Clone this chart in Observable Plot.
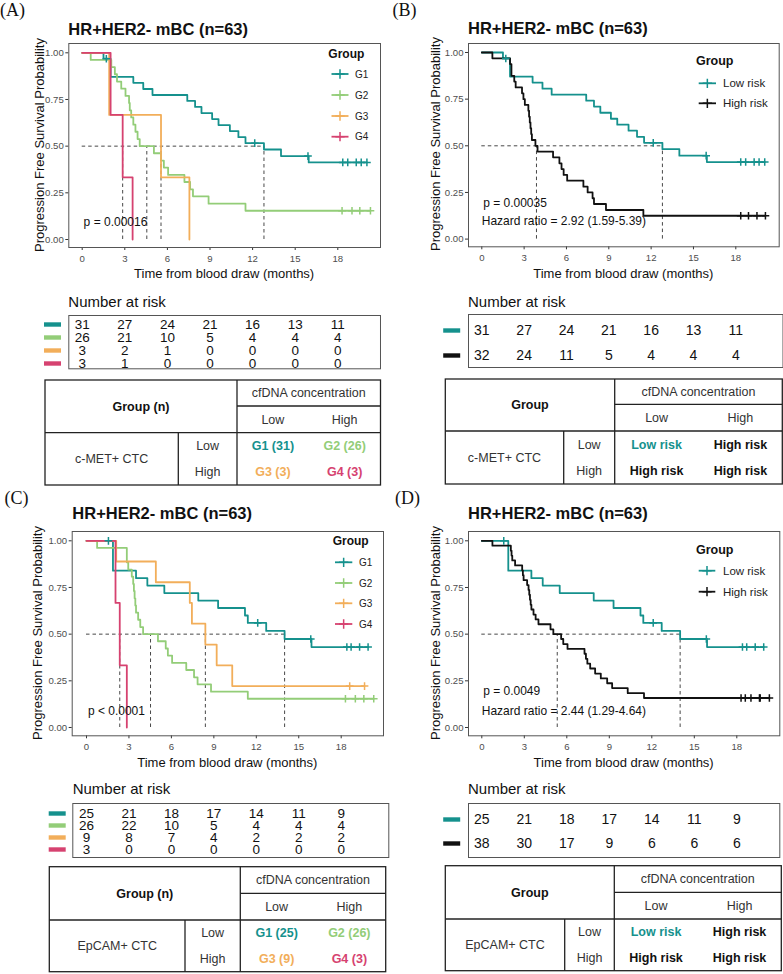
<!DOCTYPE html>
<html><head><meta charset="utf-8">
<script src="https://cdn.jsdelivr.net/npm/d3@7"></script>
<script src="https://cdn.jsdelivr.net/npm/@observablehq/plot@0.6"></script>
<style>
html,body{margin:0;padding:0;background:#fff;}
#root{position:relative;width:783px;height:974px;overflow:hidden;font-family:"Liberation Sans",Arial,Helvetica,sans-serif;color:#111;}
.t{position:absolute;white-space:nowrap;line-height:1;}
</style></head><body><div id="root"></div>
<script>
// ---------------- DATA ----------------
const timeTicks = [0, 3, 6, 9, 12, 15, 18];
const probTicks = [0, 0.25, 0.5, 0.75, 1];
const panelLabels = ["(A)", "(B)", "(C)", "(D)"];
const titleText = "HR+HER2- mBC (n=63)";
const xTitle = "Time from blood draw (months)";
const yTitle = "Progression Free Survival Probability";
const riskTitle = "Number at risk";
const legendTitle = "Group";

const fourGroups = ["G1", "G2", "G3", "G4"];
const fourColors = ["#15918d", "#93cd78", "#f2ae5a", "#d64270"];
const riskGroups = ["Low risk", "High risk"];
const riskColors = ["#15918d", "#111111"];

// Panel A: c-MET+ CTC x cfDNA
const aG1Time = [0, 1.5, 2.0, 3.6, 4.3, 4.95, 7.4, 7.95, 8.4, 9.15, 9.6, 10.4, 11.0, 11.5, 12.8, 14.0, 15.95];
const aG1Surv = [1, 0.968, 0.871, 0.839, 0.806, 0.774, 0.742, 0.710, 0.677, 0.645, 0.613, 0.581, 0.548, 0.516, 0.482, 0.447, 0.413];
const aG1Cens = [1.7, 12.15, 15.9, 18.35, 18.7, 19.3, 19.65, 20.05];
const aG2Time = [0, 0.6, 2.05, 2.3, 2.45, 2.75, 3.05, 3.3, 3.35, 3.45, 3.6, 3.75, 3.9, 4.05, 5.05, 5.55, 5.75, 6.05, 7.2, 7.6, 7.8, 8.9, 11.5];
const aG2Surv = [1, 0.962, 0.923, 0.885, 0.846, 0.808, 0.769, 0.731, 0.692, 0.654, 0.615, 0.577, 0.538, 0.5, 0.462, 0.423, 0.385, 0.346, 0.308, 0.269, 0.231, 0.192, 0.154];
const aG2Cens = [18.3, 19.0, 19.55, 20.3];
const aG3Time = [0, 1.9, 5.55, 7.55];
const aG3Surv = [1, 0.667, 0.333, 0];
const aG3Cens = [];
const aG4Time = [0, 2.0, 2.85, 3.55];
const aG4Surv = [1, 0.667, 0.333, 0];
const aG4Cens = [];
const aMedians = [12.8, 4.55, 5.55, 2.85];
const aRiskG1 = [31, 27, 24, 21, 16, 13, 11];
const aRiskG2 = [26, 21, 10, 5, 4, 4, 4];
const aRiskG3 = [3, 2, 1, 0, 0, 0, 0];
const aRiskG4 = [3, 1, 0, 0, 0, 0, 0];
const aAnnot = [{x: 0.1, y: 0.093, text: "p = 0.00016"}];

// Panel B: c-MET+ CTC risk (Low risk = G1 of panel A)
const bHighTime = [0, 0.75, 2.0, 2.1, 2.3, 2.4, 2.85, 2.95, 3.05, 3.3, 3.35, 3.4, 3.45, 3.5, 3.55, 3.8, 3.95, 5.05, 5.5, 5.65, 5.8, 6.05, 7.2, 7.5, 7.85, 7.95, 8.8, 11.45];
const bHighSurv = [1, 0.969, 0.938, 0.875, 0.844, 0.813, 0.781, 0.75, 0.719, 0.688, 0.656, 0.625, 0.594, 0.563, 0.531, 0.5, 0.469, 0.438, 0.406, 0.375, 0.344, 0.313, 0.281, 0.25, 0.219, 0.188, 0.156, 0.125];
const bHighCens = [18.35, 18.9, 19.5, 20.1];
const bMedians = [12.8, 3.875];
const bRiskLow = [31, 27, 24, 21, 16, 13, 11];
const bRiskHigh = [32, 24, 11, 5, 4, 4, 4];
const bAnnot = [{x: 0.1, y: 0.193, text: "p = 0.00035"}, {x: 0, y: 0.094, text: "Hazard ratio = 2.92 (1.59-5.39)"}];

// Panel C: EpCAM+ CTC x cfDNA
const cG1Time = [0, 1.87, 3.5, 4.3, 5.5, 7.9, 9.3, 11.2, 11.4, 12.7, 14.0, 15.9];
const cG1Surv = [1, 0.84, 0.80, 0.76, 0.72, 0.68, 0.64, 0.60, 0.56, 0.517, 0.474, 0.431];
const cG1Cens = [1.55, 12.1, 15.85, 18.4, 18.7, 19.3, 19.9];
const cG2Time = [0, 0.75, 2.85, 2.95, 3.2, 3.3, 3.35, 3.4, 3.45, 3.5, 3.65, 3.8, 4.0, 5.05, 5.6, 5.75, 6.05, 7.05, 7.6, 7.85, 8.8, 11.4];
const cG2Surv = [1, 0.962, 0.885, 0.846, 0.808, 0.769, 0.731, 0.692, 0.654, 0.615, 0.577, 0.538, 0.5, 0.462, 0.423, 0.385, 0.346, 0.308, 0.269, 0.231, 0.192, 0.154];
const cG2Cens = [18.3, 19.0, 19.6, 20.3];
const cG3Time = [0, 2.1, 4.9, 7.3, 7.45, 8.4, 9.2, 10.3];
const cG3Surv = [1, 0.889, 0.778, 0.667, 0.556, 0.444, 0.333, 0.222];
const cG3Cens = [18.6, 19.65];
const cG4Time = [0, 2.05, 2.35, 2.85];
const cG4Surv = [1, 0.667, 0.333, 0];
const cG4Cens = [];
const cMedians = [14.0, 4.525, 8.4, 2.35];
const cRiskG1 = [25, 21, 18, 17, 14, 11, 9];
const cRiskG2 = [26, 22, 10, 5, 4, 4, 4];
const cRiskG3 = [9, 8, 7, 4, 2, 2, 2];
const cRiskG4 = [3, 0, 0, 0, 0, 0, 0];
const cAnnot = [{x: 0.1, y: 0.089, text: "p < 0.0001"}];

// Panel D: EpCAM+ CTC risk (Low risk = G1 of panel C)
const dHighTime = [0, 0.75, 2.05, 2.1, 2.15, 2.35, 2.85, 2.9, 2.95, 3.2, 3.3, 3.35, 3.4, 3.45, 3.5, 3.65, 3.8, 4.0, 4.85, 5.05, 5.6, 5.75, 6.05, 7.25, 7.35, 7.45, 7.65, 8.0, 8.4, 8.85, 9.2, 10.3, 11.45];
const dHighSurv = [1, 0.974, 0.947, 0.921, 0.895, 0.868, 0.842, 0.816, 0.789, 0.763, 0.737, 0.711, 0.684, 0.658, 0.632, 0.605, 0.579, 0.553, 0.526, 0.5, 0.474, 0.447, 0.421, 0.395, 0.368, 0.342, 0.316, 0.289, 0.263, 0.237, 0.211, 0.184, 0.158];
const dHighCens = [18.3, 18.6, 19.0, 19.6, 19.65, 20.3];
const dMedians = [14.0, 5.325];
const dRiskLow = [25, 21, 18, 17, 14, 11, 9];
const dRiskHigh = [38, 30, 17, 9, 6, 6, 6];
const dAnnot = [{x: 0.1, y: 0.193, text: "p = 0.0049"}, {x: 0, y: 0.089, text: "Hazard ratio = 2.44 (1.29-4.64)"}];

// Group definition tables
const tableHeadN = "Group (n)";
const tableHead = "Group";
const cfdnaHead = "cfDNA concentration";
const levelNames = ["Low", "High"];
const markerCMET = "c-MET+ CTC";
const markerEpCAM = "EpCAM+ CTC";
const cellsA = ["G1 (31)", "G2 (26)", "G3 (3)", "G4 (3)"];
const cellsC = ["G1 (25)", "G2 (26)", "G3 (9)", "G4 (3)"];
const cellsRisk = ["Low risk", "High risk", "High risk", "High risk"];
const cellsRiskColors = ["#15918d", "#111111", "#111111", "#111111"];

// ---------------- HELPERS ----------------
const FONT = '"Liberation Sans", Arial, Helvetica, sans-serif';
const root = document.getElementById("root");

function text(str, x, y, o = {}) {
  const d = document.createElement("div");
  d.className = "t";
  d.textContent = str;
  d.style.left = x + "px";
  d.style.top = y + "px";
  d.style.fontSize = (o.size || 12) + "px";
  if (o.bold) d.style.fontWeight = "bold";
  d.style.color = o.color || "#111";
  if (o.family) d.style.fontFamily = o.family;
  let tf = o.anchor === "middle" ? "translate(-50%,-50%)" : "translate(0,-50%)";
  if (o.rotate) tf = "translate(-50%,-50%) rotate(-90deg)";
  d.style.transform = tf;
  root.appendChild(d);
}
function place(svg, left, top) {
  svg.style.position = "absolute";
  svg.style.left = left + "px";
  svg.style.top = top + "px";
  root.appendChild(svg);
}
function stepAt(times, surv, t) {
  let s = surv[0];
  for (let i = 0; i < times.length; i++) if (times[i] <= t) s = surv[i];
  return s;
}
function curveRows(g, times, surv, cens) {
  const rows = times.map((t, i) => ({g, t, s: surv[i]}));
  if (cens.length) rows.push({g, t: cens[cens.length - 1], s: surv[surv.length - 1]});
  return rows;
}
function censorRows(g, times, surv, cens) {
  return cens.map(t => ({g, t, s: stepAt(times, surv, t)}));
}
function riskRows(groups, lists) {
  const out = [];
  groups.forEach((g, i) => lists[i].forEach((n, j) => out.push({g, t: timeTicks[j], n})));
  return out;
}
const barSymbol = {draw(ctx) { ctx.moveTo(-8.5, -2.2); ctx.lineTo(8.5, -2.2); ctx.lineTo(8.5, 2.2); ctx.lineTo(-8.5, 2.2); ctx.closePath(); }};

function kmPlot(P, D) {
  const W = 391;
  const ppm = (P.x18 - P.x0) / 18;
  const ppu = P.y0 - P.y1;
  const mt = 12, mb = 24;
  const maxMed = d3.max(D.medians);
  const svg = Plot.plot({
    width: W, height: P.B - P.T + mt + mb,
    marginLeft: P.L - P.px, marginRight: P.px + W - P.R, marginTop: mt, marginBottom: mb,
    x: {domain: [(P.L - P.x0) / ppm, (P.R - P.x0) / ppm], label: null},
    y: {domain: [-(P.B - P.y0) / ppu, 1 + (P.y1 - P.T) / ppu], label: null},
    color: {domain: D.groups, range: D.colors},
    style: {fontFamily: FONT, background: "transparent", overflow: "visible"},
    marks: [
      Plot.axisX(timeTicks, {tickSize: 3, tickPadding: 4.5, fontSize: 9.6, stroke: "#333", fill: "#4d4d4d", label: null}),
      Plot.axisY(probTicks, {tickSize: 3, tickPadding: 2, fontSize: 9.6, tickFormat: d3.format(".2f"), stroke: "#333", fill: "#4d4d4d", label: null}),
      Plot.ruleY([0.5], {x1: () => 0, x2: () => maxMed, stroke: "#333", strokeWidth: 0.9, strokeDasharray: "3.5,3"}),
      Plot.ruleX(D.medians, {x: d => d, y1: () => 0, y2: () => 0.5, stroke: "#333", strokeWidth: 0.9, strokeDasharray: "3.5,3"}),
      Plot.line(D.curves, {x: "t", y: "s", z: "g", stroke: "g", curve: "step-after", strokeWidth: 1.8}),
      Plot.dot(D.censors, {x: "t", y: "s", stroke: "g", symbol: "plus", r: 2.6, strokeWidth: 1.5}),
      Plot.text(D.annot, {x: "x", y: "y", text: "text", textAnchor: "start", fontSize: 12, fill: "#111"}),
      Plot.frame({stroke: "#555", strokeWidth: 1})
    ]
  });
  place(svg, P.px, P.T - mt);
}

function riskPlot(P, D) {
  const W = 391;
  const R = P.risk;
  const ppm = (P.x18 - P.x0) / 18;
  const top = R.T - 1;
  const svg = Plot.plot({
    width: W, height: R.B - R.T + 2,
    marginLeft: R.L - P.px, marginRight: Math.max(0.5, P.px + W - R.R), marginTop: 1, marginBottom: 1,
    x: {domain: [(R.L - P.x0) / ppm, (R.R - P.x0) / ppm], axis: null},
    y: {type: "point", domain: D.groups, range: [R.rows[0] - top, R.rows[R.rows.length - 1] - top], padding: 0, axis: null},
    color: {domain: D.groups, range: D.colors},
    style: {fontFamily: FONT, background: "transparent", overflow: "visible"},
    marks: [
      Plot.text(D.risk, {x: "t", y: "g", text: "n", fontSize: R.fs, fill: "#111"}),
      Plot.dot(D.groups, {y: d => d, fill: d => d, frameAnchor: "left", dx: R.barC - R.L, symbol: barSymbol, r: 3}),
      Plot.frame({stroke: "#555", strokeWidth: 1})
    ]
  });
  place(svg, P.px, top);
  text(riskTitle, R.head.x, R.head.y, {size: 15});
}

// overlay for legends and tables
const overlay = d3.create("svg").attr("width", 783).attr("height", 974)
  .style("position", "absolute").style("left", "0px").style("top", "0px")
  .style("font-family", FONT);

function legend(P, D) {
  const L = P.legend;
  const g = overlay.append("g");
  g.append("text").attr("x", L.titleX).attr("y", L.titleY).attr("dy", "0.35em")
    .attr("font-weight", "bold").attr("font-size", L.tfs).attr("fill", "#111").text(legendTitle);
  D.groups.forEach((name, i) => {
    const y = L.rows[i];
    g.append("line").attr("x1", L.k1).attr("x2", L.k2).attr("y1", y).attr("y2", y)
      .attr("stroke", D.colors[i]).attr("stroke-width", 1.8);
    g.append("path").attr("d", d3.symbol(d3.symbolPlus, 30)())
      .attr("transform", `translate(${(L.k1 + L.k2) / 2},${y})`)
      .attr("stroke", D.colors[i]).attr("stroke-width", 1.5).attr("fill", "none");
    g.append("text").attr("x", L.tx).attr("y", y).attr("dy", "0.35em")
      .attr("font-size", L.fs).attr("fill", "#222").text(name);
  });
}

function groupTable(P, T) {
  const [x0, x1, x2, x3] = P.table.xs;
  const [y0, y1, y2, y3] = P.table.ys;
  const g = overlay.append("g");
  const ln = (a, b, c, d) => g.append("line").attr("x1", a).attr("y1", b).attr("x2", c).attr("y2", d)
    .attr("stroke", "#222").attr("stroke-width", 1.3);
  g.append("rect").attr("x", x0).attr("y", y0).attr("width", x3 - x0).attr("height", y3 - y0)
    .attr("fill", "none").attr("stroke", "#222").attr("stroke-width", 1.3);
  ln(x2, y0, x2, y3); ln(x2, y1, x3, y1); ln(x0, y2, x3, y2); ln(x1, y2, x1, y3);
  const xm = (x2 + x3) / 2;
  const lowX = (x2 + xm) / 2, highX = (xm + x3) / 2;
  const rLow = y2 + (y3 - y2) / 4, rHigh = y2 + 3 * (y3 - y2) / 4;
  const tx = (s, x, y, o = {}) => g.append("text").attr("x", x).attr("y", y).attr("dy", "0.35em")
    .attr("text-anchor", "middle").attr("font-size", 12.5)
    .attr("font-weight", o.bold ? "bold" : null).attr("fill", o.color || "#333").text(s);
  tx(T.head, (x0 + x2) / 2, (y0 + y2) / 2, {bold: true, color: "#111"});
  tx(cfdnaHead, xm, (y0 + y1) / 2);
  tx(levelNames[0], lowX, (y1 + y2) / 2);
  tx(levelNames[1], highX, (y1 + y2) / 2);
  tx(T.marker, (x0 + x1) / 2, (y2 + y3) / 2);
  tx(levelNames[0], (x1 + x2) / 2, rLow);
  tx(levelNames[1], (x1 + x2) / 2, rHigh);
  tx(T.cells[0], lowX, rLow, {bold: true, color: T.colors[0]});
  tx(T.cells[1], highX, rLow, {bold: true, color: T.colors[1]});
  tx(T.cells[2], lowX, rHigh, {bold: true, color: T.colors[2]});
  tx(T.cells[3], highX, rHigh, {bold: true, color: T.colors[3]});
}

function panel(P, D, T, idx) {
  text(panelLabels[idx], P.label.x, P.label.y, {size: 18, family: '"Liberation Serif", "Times New Roman", serif'});
  text(titleText, P.title.x, P.title.y, {size: 16.5, bold: true});
  kmPlot(P, D);
  text(yTitle, P.yLab, (P.T + P.B) / 2, {size: 13, rotate: true});
  text(xTitle, (P.L + P.R) / 2, P.xLabY, {size: 13, anchor: "middle"});
  riskPlot(P, D);
  legend(P, D);
  groupTable(P, T);
}

// ---------------- LAYOUT ----------------
const layoutA = {px: 0, L: 68.3, R: 380, T: 43, B: 247, x0: 81.7, x18: 337.3, y1: 52.3, y0: 239,
  label: {x: 0, y: 10}, title: {x: 68.3, y: 29}, yLab: 39, xLabY: 273,
  risk: {T: 315, B: 368.3, L: 68.3, R: 380, rows: [323.3, 336.7, 349.7, 363], barC: 52, fs: 13.5, head: {x: 68.3, y: 300.7}},
  legend: {titleX: 328.3, titleY: 53.3, k1: 331.5, k2: 348.5, tx: 355, rows: [74, 95, 116, 136.7], fs: 10, tfs: 12},
  table: {xs: [45, 178.3, 237, 380.5], ys: [380, 406, 432.7, 485]}};
const layoutB = {px: 392, L: 468, R: 778.7, T: 42.7, B: 246, x0: 481.3, x18: 735.3, y1: 51.7, y0: 238.3,
  label: {x: 392.5, y: 10}, title: {x: 468, y: 28}, yLab: 435, xLabY: 273.3,
  risk: {T: 314.3, B: 367.3, L: 468, R: 782.5, rows: [330, 355], barC: 451.2, fs: 14, head: {x: 468, y: 300.7}},
  legend: {titleX: 696, titleY: 61, k1: 698.7, k2: 716, tx: 723, rows: [83.3, 103.3], fs: 11.5, tfs: 12.5},
  table: {xs: [445.3, 563.7, 614.7, 782.3], ys: [379, 404.3, 431, 484]}};
const layoutC = {px: 0, L: 71.7, R: 383, T: 530.7, B: 735, x0: 86, x18: 340.7, y1: 540, y0: 726.7,
  label: {x: 4.5, y: 498}, title: {x: 72.3, y: 513.3}, yLab: 37, xLabY: 761.7,
  risk: {T: 802.7, B: 856.7, L: 72.3, R: 388.3, rows: [811.7, 824.3, 836.7, 849.3], barC: 56.7, fs: 13.5, head: {x: 72.7, y: 788.3}},
  legend: {titleX: 332.7, titleY: 541, k1: 335, k2: 352.3, tx: 359, rows: [562.3, 583, 603.3, 624], fs: 10, tfs: 12},
  table: {xs: [49.3, 185, 240.3, 385.7], ys: [866.7, 893.3, 920, 971.7]}};
const layoutD = {px: 392, L: 468, R: 779.3, T: 530.7, B: 735, x0: 481.3, x18: 736.3, y1: 540, y0: 726.7,
  label: {x: 395, y: 498}, title: {x: 468, y: 513.3}, yLab: 435, xLabY: 761.7,
  risk: {T: 802.7, B: 856.7, L: 468, R: 779.3, rows: [818.3, 842.7], barC: 451.2, fs: 14, head: {x: 468, y: 788.3}},
  legend: {titleX: 696, titleY: 549.3, k1: 698.7, k2: 715.3, tx: 723, rows: [570.7, 591.7], fs: 11.5, tfs: 12.5},
  table: {xs: [445.3, 564.7, 614.3, 781.3], ys: [865.7, 892.3, 919, 970.7]}};

// ---------------- BUILD ----------------
const dataA = {
  groups: fourGroups, colors: fourColors, medians: aMedians, annot: aAnnot,
  curves: [...curveRows("G1", aG1Time, aG1Surv, aG1Cens), ...curveRows("G2", aG2Time, aG2Surv, aG2Cens),
           ...curveRows("G3", aG3Time, aG3Surv, aG3Cens), ...curveRows("G4", aG4Time, aG4Surv, aG4Cens)],
  censors: [...censorRows("G1", aG1Time, aG1Surv, aG1Cens), ...censorRows("G2", aG2Time, aG2Surv, aG2Cens)],
  risk: riskRows(fourGroups, [aRiskG1, aRiskG2, aRiskG3, aRiskG4])
};
const dataB = {
  groups: riskGroups, colors: riskColors, medians: bMedians, annot: bAnnot,
  curves: [...curveRows("Low risk", aG1Time, aG1Surv, aG1Cens), ...curveRows("High risk", bHighTime, bHighSurv, bHighCens)],
  censors: [...censorRows("Low risk", aG1Time, aG1Surv, aG1Cens), ...censorRows("High risk", bHighTime, bHighSurv, bHighCens)],
  risk: riskRows(riskGroups, [bRiskLow, bRiskHigh])
};
const dataC = {
  groups: fourGroups, colors: fourColors, medians: cMedians, annot: cAnnot,
  curves: [...curveRows("G1", cG1Time, cG1Surv, cG1Cens), ...curveRows("G2", cG2Time, cG2Surv, cG2Cens),
           ...curveRows("G3", cG3Time, cG3Surv, cG3Cens), ...curveRows("G4", cG4Time, cG4Surv, cG4Cens)],
  censors: [...censorRows("G1", cG1Time, cG1Surv, cG1Cens), ...censorRows("G2", cG2Time, cG2Surv, cG2Cens),
            ...censorRows("G3", cG3Time, cG3Surv, cG3Cens)],
  risk: riskRows(fourGroups, [cRiskG1, cRiskG2, cRiskG3, cRiskG4])
};
const dataD = {
  groups: riskGroups, colors: riskColors, medians: dMedians, annot: dAnnot,
  curves: [...curveRows("Low risk", cG1Time, cG1Surv, cG1Cens), ...curveRows("High risk", dHighTime, dHighSurv, dHighCens)],
  censors: [...censorRows("Low risk", cG1Time, cG1Surv, cG1Cens), ...censorRows("High risk", dHighTime, dHighSurv, dHighCens)],
  risk: riskRows(riskGroups, [dRiskLow, dRiskHigh])
};

panel(layoutA, dataA, {head: tableHeadN, marker: markerCMET, cells: cellsA, colors: fourColors}, 0);
panel(layoutB, dataB, {head: tableHead, marker: markerCMET, cells: cellsRisk, colors: cellsRiskColors}, 1);
panel(layoutC, dataC, {head: tableHeadN, marker: markerEpCAM, cells: cellsC, colors: fourColors}, 2);
panel(layoutD, dataD, {head: tableHead, marker: markerEpCAM, cells: cellsRisk, colors: cellsRiskColors}, 3);
root.appendChild(overlay.node());
</script></body></html>
